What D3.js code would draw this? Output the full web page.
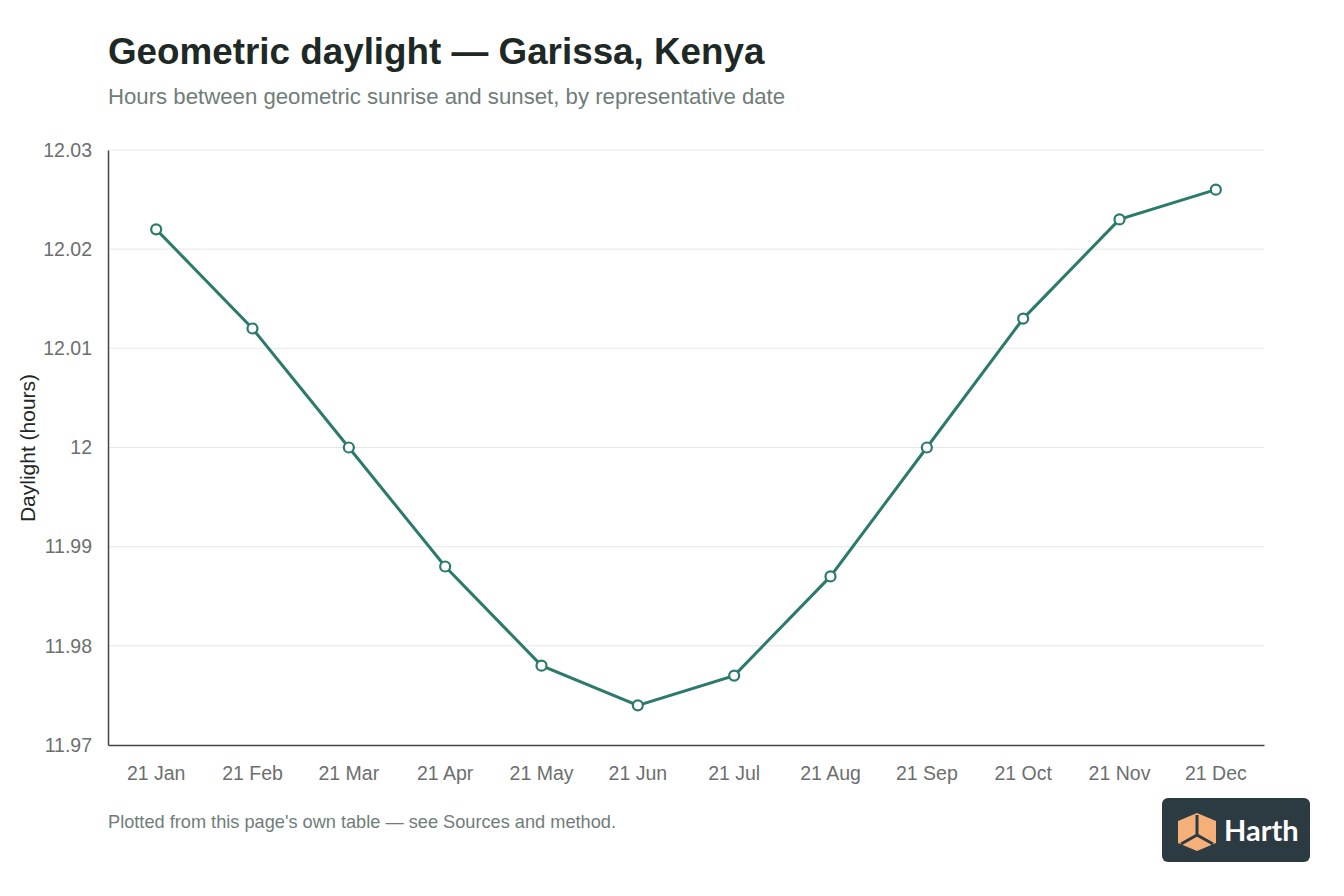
<!DOCTYPE html>
<html><head><meta charset="utf-8">
<script src="https://cdn.jsdelivr.net/npm/d3@7"></script>
<style>
html,body{margin:0;padding:0;background:#fff;}
svg{display:block;font-family:"Liberation Sans",Arial,Helvetica,sans-serif;}
</style></head>
<body><svg id="chart" width="1344" height="896"></svg>
<script>
const categories = ["21 Jan","21 Feb","21 Mar","21 Apr","21 May","21 Jun","21 Jul","21 Aug","21 Sep","21 Oct","21 Nov","21 Dec"];
const daylight = [12.022,12.012,12.000,11.988,11.978,11.974,11.977,11.987,12.000,12.013,12.023,12.026];
const yTicks = [11.97,11.98,11.99,12,12.01,12.02,12.03];

const svg = d3.select("#chart");
const m = {left:108, right:1264, top:150, bottom:745};
const x = d3.scaleBand().domain(categories).range([m.left,m.right]);
const y = d3.scaleLinear().domain([11.97,12.03]).range([m.bottom,m.top]);

svg.append("text").attr("x",108).attr("y",64).attr("font-size",36.8).attr("font-weight",700)
  .attr("fill","#1e2926").text("Geometric daylight — Garissa, Kenya");
svg.append("text").attr("x",108).attr("y",104).attr("font-size",22.2).attr("fill","#6f7d79")
  .text("Hours between geometric sunrise and sunset, by representative date");

// grid
svg.append("g").selectAll("line").data(yTicks.slice(1)).join("line")
  .attr("x1",m.left).attr("x2",m.right).attr("y1",d=>y(d)).attr("y2",d=>y(d))
  .attr("stroke","#e6e8e7").attr("stroke-width",1);

// y axis
const yAx = svg.append("g").attr("transform",`translate(${m.left},0)`)
  .call(d3.axisLeft(y).tickValues(yTicks).tickFormat(d=>d3.format("")(+d.toFixed(2))).tickSize(0).tickPadding(16));
yAx.select(".domain").attr("stroke","#444").attr("stroke-width",1.5);
yAx.selectAll("text").attr("font-size",19.5).attr("fill","#6b6f6e").attr("font-family","Liberation Sans, Arial, sans-serif");

// x axis
const xAx = svg.append("g").attr("transform",`translate(0,${m.bottom})`)
  .call(d3.axisBottom(x).tickSize(0).tickPadding(21));
xAx.select(".domain").attr("stroke","#444").attr("stroke-width",1.5);
xAx.selectAll("text").attr("font-size",19.5).attr("fill","#6b6f6e").attr("font-family","Liberation Sans, Arial, sans-serif");

// y label
svg.append("text").attr("transform","translate(35,448) rotate(-90)").attr("text-anchor","middle")
  .attr("font-size",21).attr("fill","#1e2926").text("Daylight (hours)");

// line
const cx = d=>x(d)+x.bandwidth()/2;
const pts = categories.map((c,i)=>[cx(c),y(daylight[i])]);
svg.append("path").attr("d",d3.line()(pts)).attr("fill","none").attr("stroke","#2b7a6b").attr("stroke-width",3);
svg.append("g").selectAll("circle").data(pts).join("circle")
  .attr("cx",d=>d[0]).attr("cy",d=>d[1]).attr("r",5).attr("fill","#fff").attr("stroke","#2b7a6b").attr("stroke-width",2.2);

// footer
svg.append("text").attr("x",108).attr("y",828).attr("font-size",18.2).attr("fill","#6f7d79")
  .text("Plotted from this page's own table — see Sources and method.");

// logo
const lg = svg.append("g").attr("transform","translate(1162,798)");
lg.append("rect").attr("width",148).attr("height",64).attr("rx",6).attr("fill","#2c3a41");
const ic = lg.append("g").attr("transform","translate(16,15)");
ic.append("path").attr("d","M0,8 L19,0 L38,8 L38,30 L19,38 L0,30 Z").attr("fill","#f5b07a");
ic.append("path").attr("d","M19,2 L19,22 M19,22 L3,31 M19,22 L35,31").attr("stroke","#2c3a41").attr("stroke-width",3).attr("fill","none");
lg.append("text").attr("x",62).attr("y",43).attr("font-size",29).attr("font-weight",700).attr("fill","#fff")
  .attr("font-family","Lato, 'Open Sans', sans-serif").text("Harth");
</script></body></html>
